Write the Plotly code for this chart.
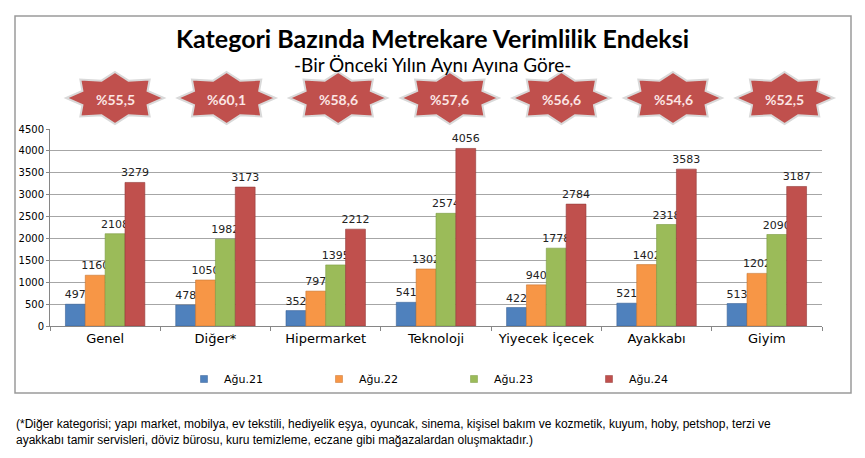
import math
import plotly.graph_objects as go

categories = ["Genel", "Diğer*", "Hipermarket", "Teknoloji", "Yiyecek İçecek", "Ayakkabı", "Giyim"]
series_names = ["Ağu.21", "Ağu.22", "Ağu.23", "Ağu.24"]
aug21 = [497, 478, 352, 541, 422, 521, 513]
aug22 = [1160, 1050, 797, 1302, 940, 1402, 1202]
aug23 = [2108, 1982, 1395, 2574, 1778, 2318, 2090]
aug24 = [3279, 3173, 2212, 4056, 2784, 3583, 3187]
growth_labels = ["%55,5", "%60,1", "%58,6", "%57,6", "%56,6", "%54,6", "%52,5"]
y_ticks = [0, 500, 1000, 1500, 2000, 2500, 3000, 3500, 4000, 4500]

colors = ["#4F81BD", "#F79646", "#9BBB59", "#C0504D"]
edge = ["#3A6399", "#C87530", "#7A9A40", "#943C3A"]

OFF = 8  # page body margin
W, H = 865 - OFF, 458 - OFF
L, R, T, B = 50 - OFF, 865 - 822, 129 - OFF, 458 - 326
pw, ph = W - L - R, H - T - B


def px_x(x):
    return (x - OFF - L) / pw


def px_y(y):
    return (H - B - (y - OFF)) / ph


fig = go.Figure()
for name, vals, c, e in zip(series_names, [aug21, aug22, aug23, aug24], colors, edge):
    fig.add_trace(go.Bar(
        x=categories, y=vals, name=name,
        marker=dict(color=c, line=dict(color=e, width=0.6)),
        text=[str(v) for v in vals], textposition="outside",
        textfont=dict(family="DejaVu Sans", size=11, color="#222222"),
        constraintext="none", cliponaxis=False, showlegend=False,
    ))
    fig.add_trace(go.Scatter(
        x=[None], y=[None], mode="markers", name=name,
        marker=dict(symbol="square", size=7, color=c, line=dict(color=e, width=0.5)),
        showlegend=True,
    ))

shapes = []
annotations = []
# frame
shapes.append(dict(type="rect", xref="paper", yref="paper",
                   x0=px_x(15), x1=px_x(851), y0=px_y(393), y1=px_y(16),
                   line=dict(color="#9A9A9A", width=1.5), fillcolor="rgba(0,0,0,0)", layer="below"))

# star badges
rx, ry, ratio = 49, 26, 0.72
for i, lab in enumerate(growth_labels):
    cx = 115 + 111.6 * i
    cy = 98
    pts = []
    for k in range(16):
        ang = math.pi / 2 - k * math.pi / 8
        r = 1.0 if k % 2 == 0 else ratio
        pts.append((px_x(cx + r * rx * math.cos(ang)), px_y(cy - r * ry * math.sin(ang))))
    path = "M " + " L ".join(f"{x:.5f},{y:.5f}" for x, y in pts) + " Z"
    shapes.append(dict(type="path", xref="paper", yref="paper", path=path,
                       fillcolor="#C0504D", line=dict(color="#D9D9D9", width=2)))
    annotations.append(dict(x=px_x(cx), y=px_y(cy + 1), xref="paper", yref="paper",
                            xanchor="center", yanchor="middle",
                            text=f"<b>{lab}</b>", showarrow=False,
                            font=dict(family="Lato", size=14, color="#FBE5E4")))

# titles
annotations.append(dict(x=px_x(432), y=px_y(38), xref="paper", yref="paper",
                        xanchor="center", yanchor="middle",
                        text="<b>Kategori Bazında Metrekare Verimlilik Endeksi</b>", showarrow=False,
                        font=dict(family="Lato", size=25, color="#000000")))
annotations.append(dict(x=px_x(432), y=px_y(65), xref="paper", yref="paper",
                        xanchor="center", yanchor="middle",
                        text="-Bir Önceki Yılın Aynı Ayına Göre-", showarrow=False,
                        font=dict(family="Lato", size=19, color="#000000")))
# footnote
annotations.append(dict(x=px_x(14), y=px_y(415), xref="paper", yref="paper",
                        xanchor="left", yanchor="top", align="left",
                        text="(*Diğer kategorisi; yapı market, mobilya, ev tekstili, hediyelik eşya, oyuncak, sinema, kişisel bakım ve kozmetik, kuyum, hoby, petshop, terzi ve<br>ayakkabı tamir servisleri, döviz bürosu, kuru temizleme, eczane gibi mağazalardan oluşmaktadır.)",
                        showarrow=False,
                        font=dict(family="Liberation Sans", size=12, color="#000000")))

fig.update_layout(
    width=W, height=H,
    margin=dict(l=L, r=R, t=T, b=B),
    paper_bgcolor="white", plot_bgcolor="white",
    barmode="group", bargap=0.28, bargroupgap=0,
    shapes=shapes, annotations=annotations,
    showlegend=True,
    legend=dict(orientation="h", x=px_x(184), y=px_y(379), xanchor="left", yanchor="middle",
                font=dict(family="DejaVu Sans", size=11, color="#000000"),
                entrywidth=90, itemwidth=30, bgcolor="rgba(0,0,0,0)"),
    xaxis=dict(type="category", showline=True, linecolor="#868686", linewidth=1,
               ticks="outside", tickson="boundaries", ticklen=4, tickcolor="#868686",
               tickfont=dict(family="DejaVu Sans", size=13, color="#000000"),
               showgrid=False, fixedrange=True),
    yaxis=dict(range=[0, 4500], tickvals=y_ticks, showline=True, linecolor="#868686", linewidth=1,
               ticks="outside", ticklen=3, tickcolor="#868686",
               gridcolor="#A6A6A6", gridwidth=1,
               tickfont=dict(family="DejaVu Sans", size=10, color="#000000"),
               zeroline=False, fixedrange=True),
)

fig.write_html("out.html")
